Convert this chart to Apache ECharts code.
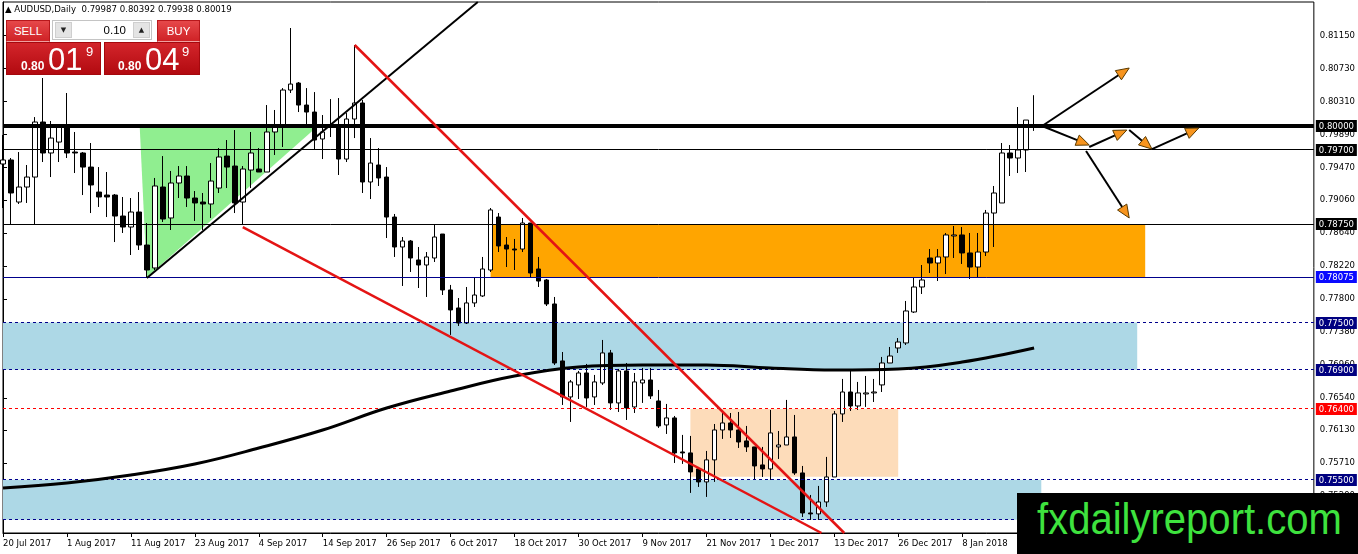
<!DOCTYPE html>
<html><head><meta charset="utf-8">
<script src="https://cdn.jsdelivr.net/npm/echarts@6/dist/echarts.min.js"></script>
<style>
html,body{margin:0;padding:0;background:#fff;}
#wrap{position:relative;width:1358px;height:554px;overflow:hidden;}
#chart{position:absolute;left:0;top:0;width:1358px;height:554px;}
.hdr{position:absolute;left:5px;top:3px;font:8.6px 'DejaVu Sans';color:#000;white-space:pre;line-height:13px;}
.btn{position:absolute;top:20px;height:22px;background:linear-gradient(#e6484a,#cf2226);color:#fff;font:11.5px 'Liberation Sans';text-align:center;line-height:20px;box-sizing:border-box;border:1px solid #b8171b;border-bottom:1px solid #f0a0a0;}
.lot{position:absolute;left:52px;top:20px;width:100px;height:20px;background:#fff;border:1px solid #c4c4c4;box-sizing:border-box;}
.lot .b{position:absolute;top:1px;width:17px;height:16px;background:#e4e4e4;border:1px solid #cfcfcf;box-sizing:border-box;font:7px 'DejaVu Sans';text-align:center;line-height:14px;color:#222;}
.lot .v{position:absolute;right:25px;top:0;font:11.5px 'Liberation Sans';line-height:18px;color:#000;}
.px{position:absolute;top:42px;height:33px;background:linear-gradient(#d3252b,#b20a10);box-sizing:border-box;border:1px solid #a5080d;color:#fff;font-family:'Liberation Sans';}
.px span{position:absolute;white-space:nowrap;}
.px .s{font-size:12px;font-weight:bold;top:16px;line-height:14px;}
.px .l{font-size:31px;top:1px;line-height:31px;}
.px .u{font-size:13px;top:2px;line-height:14px;}
.logo{position:absolute;left:1017px;top:493px;width:341px;height:61px;background:#000;overflow:hidden;}
.logo span{position:absolute;left:20px;top:4px;font:44px 'Liberation Sans';line-height:44px;color:#3ee23e;transform:scaleX(0.91);transform-origin:left top;white-space:nowrap;}
</style></head>
<body>
<div id="wrap">
<div id="chart"></div>
<div class="hdr">▲ AUDUSD,Daily  0.79987 0.80392 0.79938 0.80019</div>
<div class="btn" style="left:6px;width:44px;">SELL</div>
<div class="lot"><div class="b" style="left:2px;">▼</div><div class="v">0.10</div><div class="b" style="right:1px;">▲</div></div>
<div class="btn" style="left:157px;width:43px;">BUY</div>
<div class="px" style="left:6px;width:95px;"><span class="s" style="left:14px;">0.80</span><span class="l" style="left:41px;">01</span><span class="u" style="left:79px;">9</span></div>
<div class="px" style="left:104px;width:96px;"><span class="s" style="left:13px;">0.80</span><span class="l" style="left:40px;">04</span><span class="u" style="left:77px;">9</span></div>
<div class="logo"><span>fxdailyreport.com</span></div>
</div>
<script>
// ---- data ----
const xTickLabels = ['20 Jul 2017','1 Aug 2017','11 Aug 2017','23 Aug 2017','4 Sep 2017','14 Sep 2017','26 Sep 2017','6 Oct 2017','18 Oct 2017','30 Oct 2017','9 Nov 2017','21 Nov 2017','1 Dec 2017','13 Dec 2017','26 Dec 2017','8 Jan 2018'];
const yTickLabels = [0.81150,0.80730,0.80310,0.79890,0.79470,0.79060,0.78640,0.78220,0.77800,0.77380,0.76960,0.76540,0.76130,0.75710,0.75290];

const opens = [0.79517,0.79568,0.79033,0.79224,0.79351,0.80051,0.79657,0.79796,0.79987,0.79669,
0.79657,0.79478,0.79160,0.79122,0.79122,0.78855,0.78715,0.78906,0.78486,0.78194,
0.79224,0.78830,0.79275,0.79364,0.79084,0.79033,0.79008,0.79211,0.79618,0.79491,
0.79033,0.79440,0.79453,0.79415,0.79924,0.79987,0.80458,0.80547,0.80267,0.80178,
0.79835,0.79987,0.79987,0.79580,0.80089,0.80293,0.79288,0.79504,0.79351,0.78842,
0.78461,0.78537,0.78296,0.78232,0.78321,0.78626,0.77914,0.77685,0.77494,0.77749,
0.77838,0.78168,0.78842,0.78486,0.78435,0.78435,0.78766,0.78181,0.78041,0.77736,
0.77011,0.76553,0.76706,0.76858,0.76553,0.76731,0.77113,0.76477,0.76884,0.76426,
0.76731,0.76769,0.76502,0.76197,0.76286,0.75853,0.75841,0.75637,0.75472,0.75752,
0.76133,0.76222,0.76133,0.75993,0.75917,0.75688,0.75637,0.75917,0.75942,0.76044,
0.75586,0.75077,0.75065,0.75217,0.75535,0.76337,0.76616,0.76438,0.76591,0.76604,
0.76706,0.76985,0.77176,0.77240,0.77634,0.77952,0.78321,0.78257,0.78334,0.78601,
0.78614,0.78385,0.78206,0.78397,0.78893,0.79021,0.79657,0.79593,0.79695,0.79987];
const highs = [0.79886,0.79593,0.79669,0.79504,0.80114,0.80611,0.80064,0.79987,0.80420,0.79924,
0.79669,0.79784,0.79478,0.79415,0.79135,0.79097,0.79084,0.79160,0.78766,0.79339,
0.79618,0.79428,0.79491,0.79491,0.79173,0.79148,0.79529,0.79720,0.79822,0.79949,
0.79491,0.79924,0.79720,0.80267,0.80204,0.80483,0.81247,0.80560,0.80483,0.80432,
0.80140,0.80343,0.80356,0.80165,0.81030,0.80331,0.79847,0.79720,0.79478,0.78881,
0.78588,0.78550,0.78461,0.78397,0.78753,0.78626,0.77978,0.77812,0.77952,0.78079,
0.78334,0.78957,0.78893,0.78588,0.78563,0.78830,0.78766,0.78334,0.78054,0.77825,
0.77125,0.76769,0.76884,0.76973,0.76833,0.77278,0.77151,0.76909,0.76985,0.76858,
0.76922,0.76922,0.76642,0.76464,0.76311,0.76070,0.76057,0.75662,0.75866,0.76209,
0.76349,0.76349,0.76362,0.76184,0.75917,0.75917,0.76388,0.76120,0.76515,0.76324,
0.75675,0.75306,0.75421,0.75790,0.76375,0.76782,0.76884,0.76744,0.76820,0.76782,
0.77062,0.77189,0.77303,0.77774,0.78079,0.78232,0.78435,0.78435,0.78639,0.78728,
0.78715,0.78639,0.78639,0.78932,0.79237,0.79784,0.79758,0.80242,0.80076,0.80392];
const lows = [0.78957,0.78741,0.79008,0.79021,0.78741,0.79542,0.79351,0.79542,0.79593,0.79402,
0.79122,0.78893,0.78970,0.78842,0.78524,0.78639,0.78359,0.78423,0.78067,0.78168,
0.78779,0.78677,0.79084,0.78970,0.78792,0.78677,0.78830,0.79148,0.79211,0.78893,
0.78753,0.79211,0.79415,0.79415,0.79631,0.79733,0.80420,0.80178,0.79987,0.79695,
0.79580,0.79860,0.79377,0.79542,0.79847,0.79148,0.79071,0.79237,0.78575,0.78334,
0.77965,0.78143,0.77939,0.77825,0.78270,0.77850,0.77342,0.77456,0.77481,0.77698,
0.77825,0.78143,0.78397,0.78206,0.78168,0.78397,0.78067,0.77952,0.77710,0.76960,
0.76451,0.76235,0.76527,0.76426,0.76451,0.76706,0.76388,0.76362,0.76260,0.76349,
0.76477,0.76527,0.76159,0.76082,0.75713,0.75701,0.75332,0.75408,0.75281,0.75472,
0.76019,0.76031,0.75904,0.75853,0.75497,0.75535,0.75497,0.75764,0.75942,0.75561,
0.75026,0.74988,0.74988,0.75154,0.75535,0.76235,0.76375,0.76388,0.76426,0.76489,
0.76616,0.76985,0.77113,0.77214,0.77621,0.77863,0.78130,0.78028,0.78117,0.78321,
0.78245,0.78054,0.78067,0.78346,0.78461,0.79021,0.79364,0.79402,0.79415,0.79938];
const closes = [0.79568,0.79148,0.79224,0.79351,0.80051,0.79657,0.79847,0.79987,0.79657,0.79657,
0.79478,0.79250,0.79097,0.79097,0.78855,0.78715,0.78906,0.78486,0.78168,0.79237,
0.78817,0.79275,0.79364,0.79084,0.79021,0.79008,0.79300,0.79606,0.79478,0.79021,
0.79453,0.79657,0.79415,0.79924,0.79987,0.80458,0.80534,0.80267,0.80178,0.79822,
0.79924,0.80000,0.79580,0.80089,0.80293,0.79288,0.79529,0.79339,0.78842,0.78461,
0.78537,0.78321,0.78232,0.78334,0.78588,0.77914,0.77660,0.77494,0.77749,0.77850,
0.78181,0.78932,0.78474,0.78435,0.78423,0.78766,0.78130,0.78028,0.77736,0.76985,
0.76553,0.76744,0.76858,0.76540,0.76744,0.77113,0.76477,0.76884,0.76413,0.76744,
0.76769,0.76566,0.76184,0.76286,0.75841,0.75841,0.75599,0.75472,0.75752,0.76133,
0.76222,0.76133,0.75980,0.75917,0.75675,0.75637,0.76095,0.75942,0.76044,0.75586,
0.75077,0.75065,0.75217,0.75535,0.76337,0.76616,0.76438,0.76604,0.76604,0.76616,
0.76985,0.77074,0.77252,0.77647,0.77952,0.78041,0.78257,0.78334,0.78614,0.78614,
0.78385,0.78206,0.78397,0.78893,0.79148,0.79657,0.79593,0.79695,0.80076,0.80019];

// moving average read at every 8th bar
const maBars = [0,8,16,24,32,40,48,56,64,72,80,88,96,104,112,120,129];
const maValues = [0.75394,0.75458,0.75560,0.75700,0.75903,0.76132,0.76412,0.76628,0.76819,0.76934,0.76959,0.76959,0.76921,0.76896,0.76908,0.76997,0.77176];

// horizontal levels
const levelPrices = [0.80000,0.79700,0.78750,0.78075,0.77500,0.76900,0.76400,0.75500,0.74990];

// zones [barFrom, barTo, priceTop, priceBottom]
const blueZones = [[0,141.9,0.77500,0.76900],[0,129.9,0.75500,0.74990]];
const orangeZones = [[61,142.9,0.78750,0.78075]];
const peachZones = [[86,112,0.76400,0.75538]];
const greenTriangle = [[17.1,0.80000],[18,0.78075],[39.4,0.80000]];
// trend lines [bar, price]
const blackTrend = [[18,0.78066],[59.4,0.81578]];
const redTrendUpper = [[44,0.81031],[105.25,0.74822]];
const redTrendLower = [[30,0.78715],[102.4,0.74822]];
// projection arrows [barFrom, priceFrom, barTo, priceTo]
const arrows = [[130.0,0.80000,140.9,0.80738],[130.0,0.80000,135.9,0.79758],[135.9,0.79733,140.6,0.79949],[140.9,0.79949,143.75,0.79707],[143.75,0.79707,149.6,0.79975],[135.5,0.79682,140.9,0.78830]];

const yMin = 0.74822, yMax = 0.81578;
const slotCount = 165;

// ---- chart ----
const chart = echarts.init(document.getElementById('chart'), null, {renderer:'canvas'});
const ohlc = opens.map((o,i)=>[o, closes[i], lows[i], highs[i]]);
const cats = Array.from({length: slotCount}, (_, i) => String(i));
const FONT = 'DejaVu Sans';
const showTick = (i) => i % 8 === 0 && (i/8) < xTickLabels.length;

const levelStyles = [
  {c:'#000', w:4, dash:null, bg:'#000'},
  {c:'#000', w:1, dash:null, bg:'#000'},
  {c:'#000', w:1, dash:null, bg:'#000'},
  {c:'#00008b', w:1, dash:null, bg:'#0a0aff'},
  {c:'#00008b', w:1, dash:[3,3], bg:'#000080'},
  {c:'#00008b', w:1, dash:[3,3], bg:'#000080'},
  {c:'#ff0000', w:1, dash:[3,3], bg:'#ff0000'},
  {c:'#00008b', w:1, dash:[3,3], bg:'#000080'},
  {c:'#00008b', w:1, dash:[3,3], bg:null}
];

function zoneSeries(list, color){
  return {
    type:'custom', xAxisIndex:1, yAxisIndex:0, z:1, silent:true,
    data: list,
    encode:{x:[0,1], y:[2,3]},
    renderItem:(params, api)=>{
      const p1 = api.coord([api.value(0), api.value(2)]);
      const p2 = api.coord([api.value(1), api.value(3)]);
      return {type:'rect', shape:{x:p1[0], y:p1[1], width:p2[0]-p1[0], height:p2[1]-p1[1]}, style:{fill:color}};
    }
  };
}
function trendSeries(pts, color, width){
  return {type:'line', xAxisIndex:1, yAxisIndex:0, z:4, silent:true, symbol:'none', data:pts,
    lineStyle:{color:color, width:width}, animation:false};
}

const option = {
  animation:false,
  textStyle:{fontFamily:FONT},
  grid:{left:3, right:43, top:2, bottom:21, show:true, borderColor:'#000', borderWidth:1, backgroundColor:'#fff'},
  xAxis:[
    {type:'category', data:cats, boundaryGap:false,
     axisLine:{lineStyle:{color:'#000', width:1}},
     axisTick:{interval:(i)=>showTick(i), length:4, lineStyle:{color:'#000'}},
     axisLabel:{interval:(i)=>showTick(i), formatter:(v,i)=>xTickLabels[i/8] || '', align:'left', margin:6, fontSize:8.5, color:'#000', fontFamily:FONT},
     splitLine:{show:false}},
    {type:'value', min:0, max:slotCount-1, show:false}
  ],
  yAxis:[{type:'value', position:'right', min:yMin, max:yMax,
    axisLine:{show:true, lineStyle:{color:'#000'}},
    axisTick:{show:true, customValues:yTickLabels, length:4, lineStyle:{color:'#000'}},
    axisLabel:{customValues:yTickLabels, formatter:(v)=>Number(v).toFixed(5), fontSize:8.5, color:'#000', margin:6, fontFamily:FONT},
    splitLine:{show:false}}],
  series:[
    zoneSeries(blueZones, '#add8e6'),
    zoneSeries(orangeZones, '#ffa500'),
    zoneSeries(peachZones, '#fddcba'),
    {type:'custom', xAxisIndex:1, yAxisIndex:0, z:1, silent:true, data:[greenTriangle[0]],
     renderItem:(params, api)=>({type:'polygon', shape:{points:greenTriangle.map(p=>api.coord(p))}, style:{fill:'#90ee90'}})},
    {type:'candlestick', data:ohlc, z:2, barWidth:5, silent:true,
     itemStyle:{color:'#fff', color0:'#000', borderColor:'#000', borderColor0:'#000', borderWidth:1}},
    {type:'custom', xAxisIndex:1, yAxisIndex:0, z:3, silent:true, clip:false,
     data: levelPrices.map(p=>[0, p]), encode:{x:0, y:1},
     renderItem:(params, api)=>{
       const i = params.dataIndex, s = levelStyles[i];
       const pL = api.coord([0, api.value(1)]);
       const pR = api.coord([slotCount-1, api.value(1)]);
       let y = pL[1];
       if (s.w % 2 === 1) y = Math.round(y - 0.5) + 0.5; else y = Math.round(y);
       const kids = [{type:'line', shape:{x1:pL[0], y1:y, x2:pR[0], y2:y},
         style:{stroke:s.c, lineWidth:s.w, lineDash:s.dash || null}}];
       if (s.bg) {
         const yc = Math.round(pL[1]);
         kids.push({type:'rect', shape:{x:pR[0]+2, y:yc-6, width:41, height:12}, style:{fill:s.bg}, z2:10});
         kids.push({type:'text', style:{text:levelPrices[i].toFixed(5), x:pR[0]+5, y:yc+0.5, fill:'#fff',
           font:'8.5px "DejaVu Sans"', verticalAlign:'middle', align:'left'}, z2:11});
       }
       return {type:'group', children:kids};
     }},
    {type:'line', xAxisIndex:1, yAxisIndex:0, z:3, silent:true, symbol:'none', smooth:0.4,
     data: maBars.map((b,i)=>[b, maValues[i]]), lineStyle:{color:'#000', width:3}},
    trendSeries(blackTrend, '#000', 2),
    trendSeries(redTrendUpper, '#e41414', 2.5),
    trendSeries(redTrendLower, '#e41414', 2.5),
    {type:'custom', xAxisIndex:1, yAxisIndex:0, z:5, silent:true, data:arrows, encode:{x:[0,2], y:[1,3]},
     renderItem:(params, api)=>{
       const a = api.coord([api.value(0), api.value(1)]);
       const b = api.coord([api.value(2), api.value(3)]);
       const dx=b[0]-a[0], dy=b[1]-a[1], len=Math.hypot(dx,dy), ux=dx/len, uy=dy/len;
       const hl=13, hw=5.5;
       const base=[b[0]-ux*hl, b[1]-uy*hl];
       return {type:'group', children:[
         {type:'line', shape:{x1:a[0], y1:a[1], x2:base[0], y2:base[1]}, style:{stroke:'#000', lineWidth:2}},
         {type:'polygon', shape:{points:[b,[base[0]-uy*hw, base[1]+ux*hw],[base[0]+uy*hw, base[1]-ux*hw]]}, style:{fill:'#f7941d', stroke:'#5a3a00', lineWidth:1}}
       ]};
     }}
  ]
};
chart.setOption(option);
</script>
</body></html>
